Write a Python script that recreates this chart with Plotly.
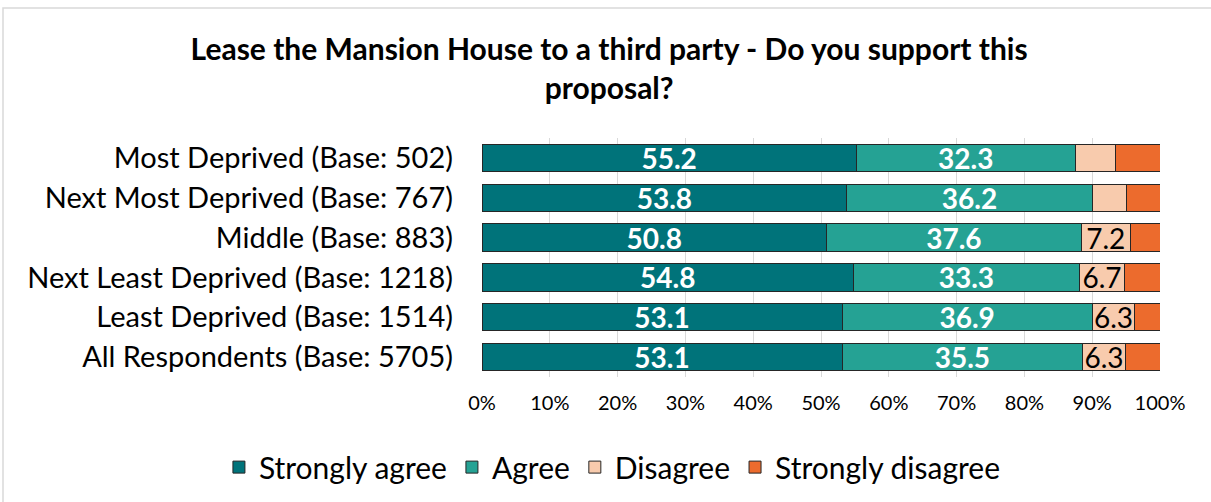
import plotly.graph_objects as go

groups = ['Most Deprived (Base: 502)', 'Next Most Deprived (Base: 767)', 'Middle (Base: 883)',
          'Next Least Deprived (Base: 1218)', 'Least Deprived (Base: 1514)', 'All Respondents (Base: 5705)']
strongly_agree = [55.2, 53.8, 50.8, 54.8, 53.1, 53.1]
agree = [32.3, 36.2, 37.6, 33.3, 36.9, 35.5]
disagree = [6.0, 5.1, 7.2, 6.7, 6.3, 6.3]
strongly_disagree = [6.5, 4.9, 4.4, 5.2, 3.7, 5.1]
tick_vals = [0, 10, 20, 30, 40, 50, 60, 70, 80, 90, 100]
tick_text = [f'{v}%' for v in tick_vals]

FONT = 'Lato'

series = [
    ('Strongly agree', strongly_agree, '#00737A', 'white', 0),
    ('Agree', agree, '#25A294', 'white', 0),
    ('Disagree', disagree, '#F8CBAD', 'black', 6.2),
    ('Strongly disagree', strongly_disagree, '#EC6B2D', 'black', 101),
]

fig = go.Figure()
for name, vals, color, tcol, min_lbl in series:
    labels = [f'{v:.1f}' if v >= min_lbl else '' for v in vals]
    fig.add_trace(go.Bar(
        name=name, y=groups, x=vals, orientation='h',
        marker=dict(color=color, line=dict(color='#262626', width=1)),
        text=labels, textposition='inside', insidetextanchor='middle',
        constraintext='none',
        textfont=dict(family=FONT, size=28, color=tcol,
                      weight='bold' if tcol == 'white' else 'normal'),
        hoverinfo='x+name',
    ))

fig.update_layout(
    barmode='stack',
    bargap=0.31,
    width=1211, height=502,
    margin=dict(l=482, r=51, t=138, b=125, autoexpand=False),
    paper_bgcolor='white', plot_bgcolor='white',
    font=dict(family=FONT, color='black'),
    title=dict(text='Lease the Mansion House to a third party - Do you support this<br>proposal?',
               x=0.503, xanchor='center', y=0.88, yanchor='top',
               font=dict(family=FONT, size=30, weight='bold', color='black')),
    legend=dict(orientation='h', x=-0.388, xanchor='left', y=-0.377, yanchor='middle',
                font=dict(family=FONT, size=30), traceorder='normal',
                itemwidth=30, tracegroupgap=0),
    xaxis=dict(range=[0, 100], tickvals=tick_vals, ticktext=tick_text,
               showgrid=True, gridcolor='#D9D9D9', gridwidth=1, zeroline=False,
               tickfont=dict(family=FONT, size=20), ticks='', showline=False,
               ticklabelstandoff=12),
    yaxis=dict(autorange='reversed', tickfont=dict(family=FONT, size=29),
               ticks='', ticklabelstandoff=28, showline=False),
    shapes=[dict(type='rect', xref='paper', yref='paper',
                 x0=-0.7065, x1=1.2, y0=-1, y1=1.544,
                 line=dict(color='#D9D9D9', width=1.5), layer='below')],
)

fig.write_html('out.html', config={'displayModeBar': False},
               post_script="document.body.style.margin='0';")
